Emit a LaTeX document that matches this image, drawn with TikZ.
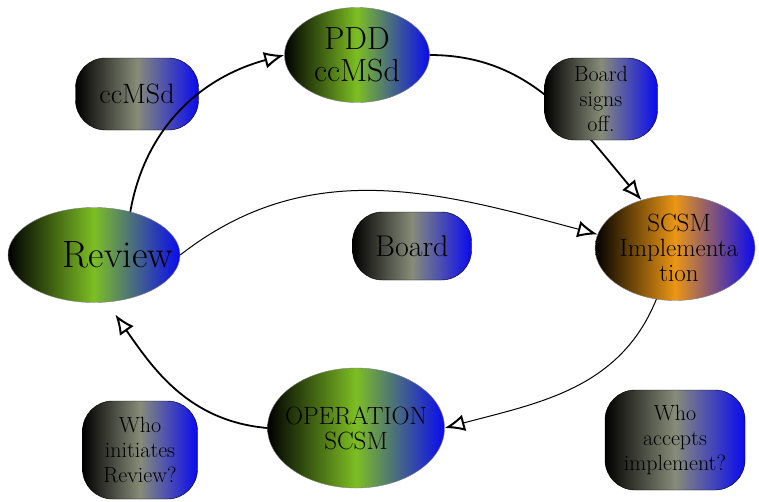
\documentclass[tikz,border=0pt]{standalone}
\usetikzlibrary{arrows.meta,shapes.geometric}

\definecolor{leaf}{RGB}{125,190,35}
\definecolor{ink}{RGB}{10,10,240}
\definecolor{slate}{RGB}{135,140,120}
\definecolor{amber}{RGB}{235,150,20}

\tikzset{
  stage/.style={ellipse, draw=gray, inner sep=0pt,
    left color=black, right color=ink, middle color=leaf},
  words/.style={align=center, font=\fontsize{#1}{#1}\selectfont},
  note/.style={rectangle, rounded corners=30pt, draw=black, inner sep=0pt, align=center,
    left color=black, right color=ink, middle color=slate,
    font=\fontsize{22}{25}\selectfont},
  flow/.style={line width=1.8pt, -{Latex[open,length=20pt,width=17pt,line width=2pt]}},
}

\begin{document}
\begin{tikzpicture}[x=1pt,y=-1pt]
\useasboundingbox (0,0) rectangle (759,501);

\node[stage, minimum width=145pt, minimum height=95pt,
  label={[words=32]center:PDD\\ccMSd}] (pdd) at (357,55) {};
\node[note, minimum width=123pt, minimum height=72pt, font=\fontsize{28}{30}\selectfont] (ccmsd) at (137,94) {ccMSd};
\node[stage, middle color=amber, minimum width=160pt, minimum height=105pt,
  label={[words=25, xshift=4pt]center:SCSM\\Implementa\\tion}] (impl) at (675,248) {};
\node[stage, minimum width=172pt, minimum height=95pt,
  label={[words=38, xshift=24pt]center:Review}] (review) at (94,255) {};
\node[note, minimum width=119pt, minimum height=68pt, font=\fontsize{30}{30}\selectfont] (board) at (412,246) {Board};
\node[stage, minimum width=177pt, minimum height=120pt,
  label={[words=25]center:OPERATION\\SCSM}] (ops) at (356,428) {};
\node[note, minimum width=115pt, minimum height=98pt] (initiate) at (140,450) {Who\\initiates\\Review?};
\node[note, minimum width=140pt, minimum height=100pt] (accept) at (675,440) {Who\\accepts\\implement?};

% the cycle
\draw[flow] (review.50) to[out=80,in=195] (pdd.west);
\draw[flow] (pdd.east) to[out=0,in=130] (impl.125);
\draw[flow, line width=1pt] (review.east) to[out=38,in=165] (impl.170);
\draw[flow, line width=1pt] (impl.250) to[out=-112,in=15] (ops.east);
\draw[flow, shorten >=15pt] (ops.west) to[out=175,in=-55] (review.-75);

% sits over the line
\node[note, minimum width=113pt, minimum height=82pt] (signs) at (601,99) {Board\\signs\\off.};
\end{tikzpicture}
\end{document}
